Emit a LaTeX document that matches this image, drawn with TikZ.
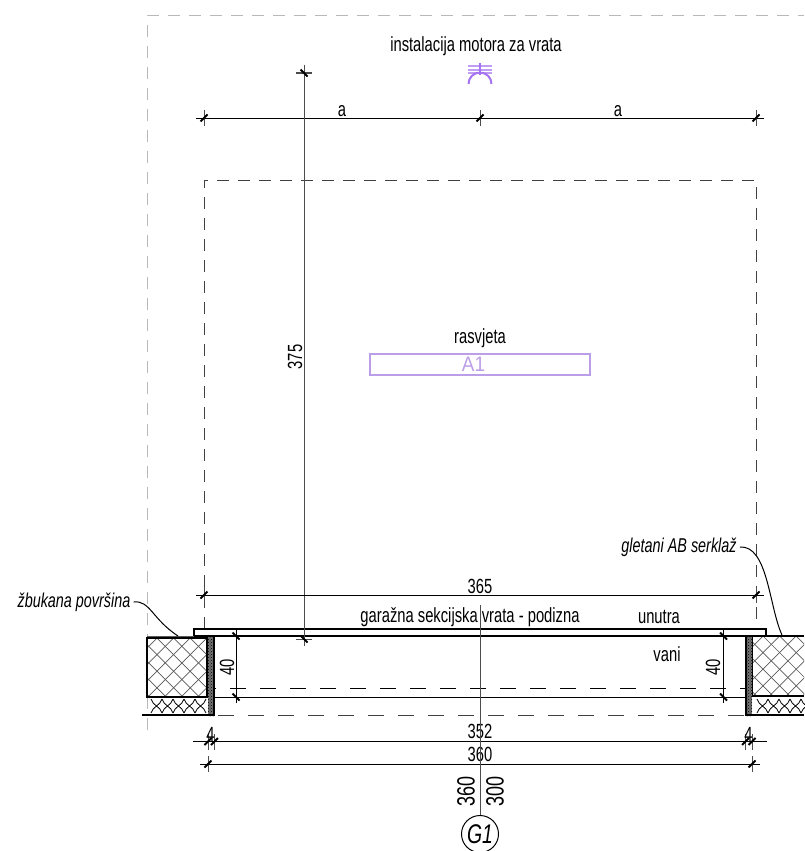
\documentclass[tikz,border=0pt]{standalone}
\usepackage{fontspec}
\setmainfont{Liberation Sans}[FakeStretch=0.72]
\newfontfamily\lampfont{Liberation Sans}[FakeStretch=0.9]
\usetikzlibrary{patterns}
\definecolor{lampviolet}{RGB}{165,115,240}
\definecolor{lamplight}{RGB}{188,158,232}
\tikzset{
  dimline/.style={line width=1pt},
  dimvert/.style={black!70,line width=1pt},
  tickmark/.style={black,line width=2pt},
  dimtext/.style={inner sep=0pt,font=\fontsize{20.5}{20.5}\selectfont},
  axistext/.style={inner sep=0pt,rotate=90,font=\fontsize{25}{25}\selectfont},
  leadertext/.style={inner sep=3pt,font=\fontsize{20}{20}\selectfont\itshape},
  hiddenline/.style={black!75,line width=1pt,dash pattern=on 12pt off 9pt},
  outerline/.style={black!28,line width=1pt,dash pattern=on 12pt off 9pt},
  wallline/.style={line width=2.4pt},
  hatchline/.style={black!65,line width=0.7pt},
  woolline/.style={line width=0.8pt},
}
\newcommand{\dimtick}[1]{
  \draw[dimvert] ([yshift=-8pt]#1) -- ([yshift=8pt]#1);
  \draw[tickmark] ([shift={(-3.5,3.5)}]#1) -- ([shift={(3.5,-3.5)}]#1);
}
\newcommand{\heighttick}[1]{
  \draw[tickmark] ([shift={(-3.5,-3.5)}]#1) -- ([shift={(3.5,3.5)}]#1);
}
\begin{document}
\begin{tikzpicture}[x=1pt,y=-1pt]
  \useasboundingbox (0,0) rectangle (804,851);

  % outer outline and opening
  \draw[outerline] (147,730) -- (147,16) -- (804,16);
  \draw[hiddenline] (204,629) -- (204,180) -- (756,180) -- (756,629);
  \draw[line width=1pt,dash pattern=on 16pt off 14pt] (200,688) -- (746,688);
  \draw[hiddenline,dash pattern=on 16pt off 14pt] (218,715) -- (746,715);

  % masonry pillars
  \fill[white] (147,638) rectangle (207,697);
  \begin{scope}
    \clip (147,638) rectangle (207,697);
    \foreach \i in {-4,...,8} {
      \draw[hatchline] (157+\i*16.6,638) -- ++(60,60);
      \draw[hatchline] (157+\i*16.6,638) -- ++(-60,60);
    }
  \end{scope}
  \begin{scope}
    \clip (752,636) rectangle (804,696);
    \foreach \i in {-4,...,8} {
      \draw[hatchline] (763+\i*16.6,636) -- ++(60,60);
      \draw[hatchline] (763+\i*16.6,636) -- ++(-60,60);
    }
  \end{scope}
  \draw[black!65,line width=1pt] (147,636) -- (207,636);
  \draw[wallline] (147,697) -- (147,638) -- (207,638) -- (207,697) -- cycle;
  \draw[wallline] (804,636) -- (752,636) -- (752,696) -- (804,696);

  % insulation
  \foreach \x in {151,162,...,195} {
    \draw[woolline] (\x,699) .. controls (\x+2,706) and (\x+9,706) .. (\x+11,713);
    \draw[woolline] (\x+11,699) .. controls (\x+9,706) and (\x+2,706) .. (\x,713);
  }
  \foreach \x in {757,768,...,801} {
    \draw[woolline] (\x,699) .. controls (\x+2,706) and (\x+9,706) .. (\x+11,713);
    \draw[woolline] (\x+11,699) .. controls (\x+9,706) and (\x+2,706) .. (\x,713);
  }

  % plaster strips
  \fill[black!55] (208,636) rectangle (214,716);
  \fill[black!55] (746,636) rectangle (752,716);
  \fill[pattern=crosshatch dots,pattern color=black] (208,636) rectangle (214,716);
  \fill[pattern=crosshatch dots,pattern color=black] (746,636) rectangle (752,716);
  \draw[line width=1.2pt] (214,636) -- (214,716);
  \draw[line width=1.6pt] (746,636) -- (746,716);
  \draw[line width=2.4pt] (142,715) -- (214,715);
  \draw[line width=1.4pt] (746,715) -- (804,715);

  % door
  \draw[line width=1.1pt] (194,636) -- (194,629) -- (766,629) -- (766,636);
  \draw[line width=1.4pt] (194,636) -- (766,636);
  \draw[line width=1pt] (214,697) -- (746,697);

  % dimensions
  \coordinate (aStart) at (196,118);
  \coordinate (aEnd) at (764,118);
  \coordinate (aL) at (204,118);
  \coordinate (aM) at (480,118);
  \coordinate (aR) at (756,118);
  \draw[dimline] (aStart) -- (aEnd);
  \foreach \p in {aL,aM,aR} { \dimtick{\p} }
  \node[dimtext] (aleft) at (342,111) {a};
  \node[dimtext] (aright) at (618,111) {a};

  \coordinate (hStart) at (304,65);
  \coordinate (hEnd) at (304,646);
  \coordinate (hT) at (304,73);
  \coordinate (hB) at (304,639);
  \draw[dimvert] (hStart) -- (hEnd);
  \foreach \p in {hT,hB} {
    \draw[dimvert] ([xshift=-8pt]\p) -- ([xshift=8pt]\p);
    \heighttick{\p}
  }
  \node[dimtext,rotate=90] (h375) at (295,357) {375};

  \coordinate (wStart) at (196,595);
  \coordinate (wEnd) at (764,595);
  \coordinate (wL) at (204,595);
  \coordinate (wR) at (756,595);
  \draw[dimline] (wStart) -- (wEnd);
  \foreach \p in {wL,wR} { \dimtick{\p} }
  \node[dimtext] (w365) at (480,586) {365};

  \coordinate (cStart) at (193,741.5);
  \coordinate (cEnd) at (767,741.5);
  \coordinate (cA) at (208,741.5);
  \coordinate (cB) at (214.5,741.5);
  \coordinate (cC) at (745.5,741.5);
  \coordinate (cD) at (752,741.5);
  \draw[dimline] (cStart) -- (cEnd);
  \foreach \p in {cA,cB,cC,cD} { \dimtick{\p} }
  \node[dimtext] (c352) at (480,731) {352};
  \node[dimtext] (cfourL) at (210.5,734) {4};
  \node[dimtext] (cfourR) at (748.5,734) {4};

  \coordinate (dStart) at (200,764);
  \coordinate (dEnd) at (760,764);
  \coordinate (dL) at (208,764);
  \coordinate (dR) at (752,764);
  \draw[dimline] (dStart) -- (dEnd);
  \foreach \p in {dL,dR} { \dimtick{\p} }
  \node[dimtext] (d360) at (480,754) {360};

  \coordinate (fLStart) at (236,628);
  \coordinate (fLEnd) at (236,703);
  \coordinate (fRStart) at (723.5,628);
  \coordinate (fREnd) at (723.5,703);
  \draw[dimline] (fLStart) -- (fLEnd);
  \draw[dimline] (fRStart) -- (fREnd);
  \coordinate (fLT) at (236,636);
  \coordinate (fLB) at (236,697);
  \coordinate (fRT) at (723.5,636);
  \coordinate (fRB) at (723.5,697);
  \foreach \p in {fLT,fLB,fRT,fRB} { \heighttick{\p} }
  \node[dimtext,rotate=90] (fortyL) at (227,667) {40};
  \node[dimtext,rotate=90] (fortyR) at (713,667) {40};

  % axis
  \node[draw,circle,minimum size=37pt,inner sep=0pt,line width=1pt,
    font=\fontsize{27}{27}\selectfont\itshape] (axis) at (480,834) {G1};
  \coordinate (axisTop) at (480,605);
  \draw[dimvert] (axisTop) -- (axis);
  \node[axistext] (axisleft) at (466,791) {360};
  \node[axistext] (axisright) at (495,791) {300};

  % labels
  \node[dimtext] (motor) at (476,46) {instalacija motora za vrata};
  \node[dimtext] (rasvjeta) at (480,338) {rasvjeta};
  \node[dimtext] (door) at (470,617) {garažna sekcijska vrata - podizna};
  \node[dimtext] (unutra) at (659,617) {unutra};
  \node[dimtext] (vani) at (667,654) {vani};

  % lamp
  \draw[lamplight,line width=2pt] (370,353.5) rectangle (590,374.5);
  \node[inner sep=0pt,text=lamplight,font=\fontsize{21}{21}\selectfont\lampfont] (lamp) at (473.5,364) {A1};

  % motor symbol
  \draw[lampviolet!70,line width=1.3pt] (468,66) -- (492,66) (468,70) -- (492,70) (468,73) -- (492,73);
  \draw[lampviolet,line width=1.6pt] (480,63) -- (480,75);
  \draw[lampviolet,line width=2pt] (468.5,84) arc[start angle=180,end angle=360,radius=11.5];

  % leader lines
  \node[leadertext] (plaster) at (74,602) {žbukana površina};
  \node[leadertext] (beam) at (679,547) {gletani AB serklaž};
  \coordinate (plasterEnd) at (178,636);
  \coordinate (beamEnd) at (782,635);
  \draw[dimline] (plaster.east) .. controls (150,600) and (152,619) .. (plasterEnd);
  \draw[dimline] (beam.east) .. controls (768,545) and (769,607) .. (beamEnd);
\end{tikzpicture}
\end{document}
